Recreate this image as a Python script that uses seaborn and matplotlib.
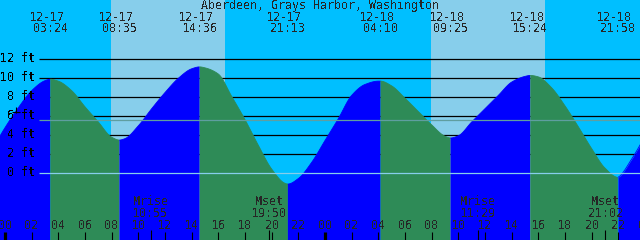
import matplotlib
matplotlib.use("Agg")
import matplotlib.pyplot as plt
import seaborn as sns
import numpy as np
import pandas as pd

# ---------------- data ----------------
title = "Aberdeen, Grays Harbor, Washington"

hour_pts = list(range(-1, 49))
tide_ft = [2.4, 4.8, 6.9, 8.7, 9.75, 9.7, 8.7, 7.0, 5.4, 3.8,
           3.65, 5.0, 6.8, 8.5, 10.0, 11.0, 11.1, 10.45, 8.1, 5.65,
           2.95, 0.45, -1.05, -0.55, 1.15, 3.45, 5.75, 8.2, 9.35, 9.7,
           9.2, 7.9, 6.5, 5.1, 3.9, 3.95, 5.4, 6.8, 8.2, 9.6,
           10.2, 10.15, 9.0, 7.1, 4.9, 2.6, 0.55, -0.4, 1.5, 3.9]

# high / low tide events
ext_dates = ["12-17", "12-17", "12-17", "12-17", "12-18", "12-18", "12-18", "12-18"]
ext_times = ["03:24", "08:35", "14:36", "21:13", "04:10", "09:25", "15:24", "21:58"]
ext_hours = [3.4, 8.583, 14.6, 21.217, 28.167, 33.417, 39.4, 45.967]
ext_ft = [9.9, 3.5, 11.2, -1.13, 9.7, 3.72, 10.3, -0.42]
ext_kind = ["H", "L", "H", "L", "H", "L", "H", "L"]

# daylight spans (hours)
day_start = [7.95, 31.95]
day_end = [16.5, 40.5]

# moon events
moon_label = ["Mrise", "Mset", "Mrise", "Mset"]
moon_time = ["10:55", "19:50", "11:29", "21:02"]
moon_hours = [10.917, 19.833, 35.483, 45.033]

# axis labels
y_levels = [0, 2, 4, 6, 8, 10, 12]
x_tick_hours = list(range(0, 49, 2))
x_tick_labels = ["%02d" % (h % 24) for h in x_tick_hours]
day_bounds = [0, 24, 48]
mean_level = 5.58

# ---------------- styling ----------------
sns.set_style("white")
plt.rcParams["font.family"] = ["DejaVu Sans Mono", "DejaVu Sans"]
plt.rcParams["text.antialiased"] = False
FS = 8.4

C_NIGHT = "#00BFFF"
C_DAY = "#87CEEB"
C_RISE = "#0000FF"
C_FALL = "#2E8B57"
C_ZERO = "#87CEEB"
C_MEAN = "#5F9EA0"


def smooth_curve(x, y, n_per=12):
    """Monotone cubic (PCHIP) rendering of the read points."""
    x = np.asarray(x, float)
    y = np.asarray(y, float)
    h = np.diff(x)
    dl = np.diff(y) / h
    d = np.zeros_like(y)
    d[0], d[-1] = dl[0], dl[-1]
    for k in range(1, len(x) - 1):
        if dl[k - 1] * dl[k] <= 0:
            d[k] = 0.0
        else:
            w1 = 2 * h[k] + h[k - 1]
            w2 = h[k] + 2 * h[k - 1]
            d[k] = (w1 + w2) / (w1 / dl[k - 1] + w2 / dl[k])
    xs, ys = [], []
    for k in range(len(x) - 1):
        s = np.linspace(0, 1, n_per, endpoint=False)
        h00 = 2 * s**3 - 3 * s**2 + 1
        h10 = s**3 - 2 * s**2 + s
        h01 = -2 * s**3 + 3 * s**2
        h11 = s**3 - s**2
        xs.append(x[k] + s * h[k])
        ys.append(h00 * y[k] + h10 * h[k] * d[k] + h01 * y[k + 1] + h11 * h[k] * d[k + 1])
    xs.append([x[-1]])
    ys.append([y[-1]])
    return np.concatenate(xs), np.concatenate(ys)


fig = plt.figure(figsize=(6.4, 2.4), dpi=100)
ax = fig.add_axes([0, 0, 1, 1])
ax.set_xlim(-0.375, 47.625)
ax.set_ylim(-7.02, 18.24)
ax.axis("off")
fig.patch.set_facecolor(C_NIGHT)
ax.add_patch(plt.Rectangle((-5, -20), 60, 60, color=C_NIGHT, zorder=0))

for a, b in zip(day_start, day_end):
    ax.axvspan(a, b, color=C_DAY, lw=0, zorder=0.5)

x_line0 = 2.55  # grid lines start just right of the labels
for lv in y_levels[1:]:
    ax.hlines(lv, x_line0, 50, color="black", lw=0.9, zorder=1)

# tide curve: hourly points merged with the high/low events
df = pd.DataFrame({"hour": hour_pts + ext_hours, "ft": tide_ft + ext_ft})
df = df.sort_values("hour").drop_duplicates("hour").reset_index(drop=True)

bounds = [hour_pts[0]] + ext_hours + [hour_pts[-1]]
kinds_end = ext_kind + ["H"]

# smooth whole curve, then colour by rising / falling segment
sx, sy = smooth_curve(df["hour"], df["ft"])
for i in range(len(bounds) - 1):
    a, b = bounds[i], bounds[i + 1]
    rising = kinds_end[i] == "H"
    m = (sx >= a - 1e-9) & (sx <= b + 1e-9)
    ax.fill_between(sx[m], -20, sy[m], color=C_RISE if rising else C_FALL,
                    lw=0, zorder=2)
smooth_df = pd.DataFrame({"hour": sx, "ft": sy})
smooth_df["seg"] = np.searchsorted(bounds, sx, side="right") - 1
smooth_df["seg"] = smooth_df["seg"].clip(0, len(bounds) - 2)
smooth_df["phase"] = ["rise" if kinds_end[s] == "H" else "fall" for s in smooth_df["seg"]]
sns.lineplot(data=smooth_df, x="hour", y="ft", hue="phase", units="seg",
             estimator=None, palette={"rise": C_RISE, "fall": C_FALL},
             lw=0.6, legend=False, ax=ax, zorder=2.1)

# zero line and mean line over the fill
ax.hlines(0, x_line0, 50, color=C_ZERO, lw=0.9, zorder=3)
ax.hlines(mean_level, x_line0, 50, color=C_MEAN, lw=0.9, zorder=3)

# y labels
for lv in y_levels:
    ax.text(2.25, lv + 0.12, "%d ft" % lv, ha="right", va="center",
            fontsize=FS, color="black", zorder=5)
# small cross mark on the 6 ft label
ax.vlines(0.8, 6.3, 7.0, color="black", lw=0.8, zorder=5)
ax.hlines(6.48, 0.5, 1.1, color="black", lw=0.8, zorder=5)

# title and event labels
ax.text(23.6, 17.7, title, ha="center", va="center", fontsize=FS, zorder=5)
for d, tm, h in zip(ext_dates, ext_times, ext_hours):
    ax.text(h - 0.26, 16.45, d, ha="center", va="center", fontsize=FS, zorder=5)
    ax.text(h, 15.2, tm, ha="center", va="center", fontsize=FS, zorder=5)

# bottom axis
for h, lab in zip(x_tick_hours, x_tick_labels):
    ax.text(h, -5.5, lab, ha="center", va="center", fontsize=FS, zorder=5)
    ax.vlines(h, -7.1, -6.18, color="black", lw=0.8 if h not in day_bounds else 2.3,
              zorder=5)
for lab, tm, h in zip(moon_label, moon_time, moon_hours):
    ax.text(h, -2.99, lab, ha="center", va="center", fontsize=FS, zorder=5)
    ax.text(h, -4.21, tm, ha="center", va="center", fontsize=FS, zorder=5)
    ax.vlines(h, -7.1, -5.95, color="black", lw=0.8, zorder=5)

fig.savefig("out.png", dpi=100, facecolor=C_NIGHT)
